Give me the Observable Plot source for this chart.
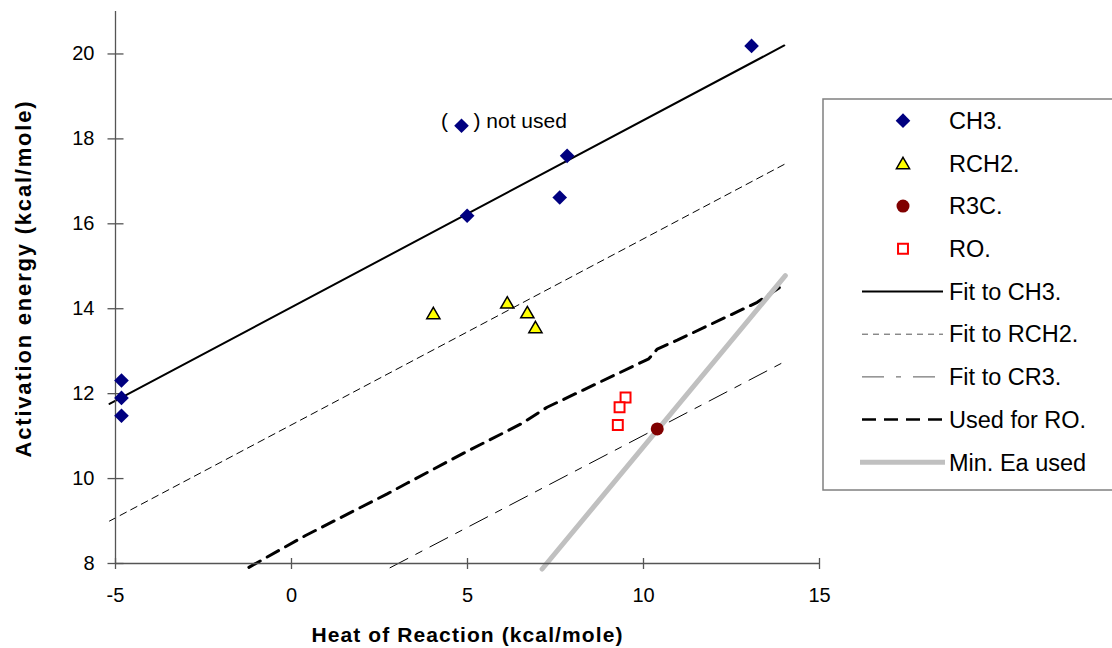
<!DOCTYPE html>
<html><head><meta charset="utf-8">
<script src="https://cdn.jsdelivr.net/npm/d3@7"></script>
<script src="https://cdn.jsdelivr.net/npm/@observablehq/plot@0.6"></script>
<style>body{margin:0;background:#fff;} #chart svg{display:block}</style>
</head><body><div id="chart"></div>
<script>
// ---- data ----
const xTicks = [-5, 0, 5, 10, 15];
const yTicks = [8, 10, 12, 14, 16, 18, 20];
const xDomain = [-5, 15];
const yDomain = [8, 21];
const xTitle = "Heat of Reaction (kcal/mole)";
const yTitle = "Activation energy (kcal/mole)";

const ch3X = [-4.83, -4.83, -4.83, 4.99, 7.83, 7.62, 13.07, 4.83];
const ch3Y = [12.31, 11.90, 11.48, 16.19, 17.60, 16.62, 20.19, 18.31];
const rch2X = [4.03, 6.13, 6.70, 6.93];
const rch2Y = [13.89, 14.14, 13.91, 13.56];
const r3cX = [10.39];
const r3cY = [11.17];
const roX = [9.49, 9.32, 9.27];
const roY = [11.91, 11.68, 11.26];

const fitCH3X = [-5.17, 14.0];
const fitCH3Y = [11.76, 20.2];
const fitRCH2X = [-5.17, 14.0];
const fitRCH2Y = [9.0, 17.4];
const fitCR3X = [2.8, 14.0];
const fitCR3Y = [7.9, 12.75];
const usedROX = [-1.21, 0.4, 2.72, 3.28, 4.89, 6.55, 7.26, 10.15, 10.39, 10.96, 13.23, 14.03];
const usedROY = [7.91, 8.66, 9.64, 9.89, 10.6, 11.3, 11.68, 12.82, 13.05, 13.26, 14.15, 14.59];
const minEaX = [7.12, 14.03];
const minEaY = [7.87, 14.78];

const notUsedX = [4.83];
const notUsedY = [18.31];
const legendLabels = ["CH3.", "RCH2.", "R3C.", "RO.", "Fit to CH3.", "Fit to RCH2.", "Fit to CR3.", "Used for RO.", "Min. Ea used"];

// ---- build ----
const pts = (xs, ys) => xs.map((x, i) => ({x, y: ys[i]}));
const FONT = '"Liberation Sans", Arial, sans-serif';
const AX = "#555";
const vTick = {draw(c) { c.moveTo(0, -5.5); c.lineTo(0, 5.5); }};
const hTick = {draw(c) { c.moveTo(-8, 0); c.lineTo(8, 0); }};

const chart = Plot.plot({
  width: 1112, height: 648,
  marginLeft: 115, marginRight: 293, marginTop: 11, marginBottom: 85,
  style: {fontFamily: FONT, fontSize: "20px", color: "#000", background: "#fff"},
  x: {domain: xDomain},
  y: {domain: yDomain},
  marks: [
    Plot.line(pts(fitRCH2X, fitRCH2Y), {x: "x", y: "y", stroke: "#000", strokeWidth: 1, strokeDasharray: "7 5"}),
    Plot.line(pts(fitCR3X, fitCR3Y), {x: "x", y: "y", stroke: "#000", strokeWidth: 1, strokeDasharray: "20 9 7 9"}),
    Plot.line(pts(usedROX, usedROY), {x: "x", y: "y", stroke: "#000", strokeWidth: 3, strokeDasharray: "13 8"}),
    Plot.line(pts(minEaX, minEaY), {x: "x", y: "y", stroke: "#c0c0c0", strokeWidth: 5}),
    Plot.line(pts(fitCH3X, fitCH3Y), {x: "x", y: "y", stroke: "#000", strokeWidth: 2}),
    // axes
    Plot.ruleY([yDomain[0]], {stroke: AX, strokeWidth: 1.3}),
    Plot.ruleX([xDomain[0]], {stroke: AX, strokeWidth: 1.3}),
    Plot.dot(xTicks, {x: d => d, y: () => yDomain[0], symbol: vTick, r: 5, stroke: AX, strokeWidth: 1.3, fill: "none"}),
    Plot.dot(yTicks, {y: d => d, x: () => xDomain[0], symbol: hTick, r: 5, stroke: AX, strokeWidth: 1.3, fill: "none"}),
    Plot.axisX({ticks: xTicks, tickSize: 0, tickPadding: 24, label: null, fontSize: 20, tickFormat: d => String(d)}),
    Plot.axisY({ticks: yTicks, tickSize: 0, tickPadding: 21, label: null, fontSize: 20, tickFormat: d => String(d)}),
    // points
    Plot.dot(pts(ch3X, ch3Y), {x: "x", y: "y", symbol: "diamond2", r: 6.6, fill: "#000080"}),
    Plot.dot(pts(rch2X, rch2Y), {x: "x", y: "y", symbol: "triangle", r: 4.9, fill: "#ffff00", stroke: "#000", strokeWidth: 1.5, dy: 1.5}),
    Plot.dot(pts(r3cX, r3cY), {x: "x", y: "y", symbol: "circle", r: 6.5, fill: "#800000"}),
    Plot.dot(pts(roX, roY), {x: "x", y: "y", symbol: "square", r: 5.6, fill: "#fff", stroke: "#ff0000", strokeWidth: 2}),
    // annotation
    Plot.text(pts(notUsedX, notUsedY), {x: "x", y: "y", text: () => "(", dx: -17, dy: -4, fontSize: 21}),
    Plot.text(pts(notUsedX, notUsedY), {x: "x", y: "y", text: () => ") not used", textAnchor: "start", dx: 12, dy: -4, fontSize: 21}),
    // titles
    Plot.text([xTitle], {frameAnchor: "bottom", textAnchor: "middle", dy: 78, fontWeight: "bold", fontSize: 21}),
    Plot.text([yTitle], {frameAnchor: "left", textAnchor: "middle", rotate: -90, dx: -92, dy: -9, fontWeight: "bold", fontSize: 22})
  ]
});
document.getElementById("chart").appendChild(chart);

const svg = d3.select(chart);
svg.selectAll("text").filter(function() { return this.textContent === xTitle; }).style("letter-spacing", "1.1px");
svg.selectAll("text").filter(function() { return this.textContent === yTitle; }).style("letter-spacing", "1.8px");

// ---- legend ----
const lg = svg.append("g").attr("font-family", FONT).attr("font-size", 23.5).attr("text-anchor", "start");
lg.append("rect").attr("x", 823).attr("y", 99).attr("width", 320).attr("height", 391)
  .attr("fill", "#fff").attr("stroke", "#808080").attr("stroke-width", 1.5);
const ly0 = 120.7, ldy = 42.7, mx = 903, tx = 949, l1 = 862, l2 = 943;
const sym = (type, r) => d3.symbol(type, Math.PI * r * r)();
const legendDraw = [
  g => g.append("path").attr("d", sym(d3.symbolDiamond2, 6.6)).attr("fill", "#000080"),
  g => g.append("path").attr("d", sym(d3.symbolTriangle, 4.9)).attr("transform", "translate(0,1.5)").attr("fill", "#ffff00").attr("stroke", "#000").attr("stroke-width", 1.5),
  g => g.append("path").attr("d", sym(d3.symbolCircle, 6.5)).attr("fill", "#800000"),
  g => g.append("path").attr("d", sym(d3.symbolSquare, 5.6)).attr("fill", "#fff").attr("stroke", "#ff0000").attr("stroke-width", 2),
  g => g.append("line").attr("x1", l1 - mx).attr("x2", l2 - mx).attr("stroke", "#000").attr("stroke-width", 2),
  g => g.append("line").attr("x1", l1 - mx).attr("x2", l2 - mx).attr("stroke", "#555").attr("stroke-width", 1).attr("stroke-dasharray", "6 5"),
  g => g.append("line").attr("x1", l1 - mx).attr("x2", l2 - mx).attr("stroke", "#555").attr("stroke-width", 1).attr("stroke-dasharray", "22 12 5 12"),
  g => g.append("line").attr("x1", l1 - mx).attr("x2", l2 - mx).attr("stroke", "#000").attr("stroke-width", 2.5).attr("stroke-dasharray", "14 8"),
  g => g.append("line").attr("x1", l1 - 2 - mx).attr("x2", l2 + 2 - mx).attr("stroke", "#c0c0c0").attr("stroke-width", 5)
];
legendLabels.forEach((label, i) => {
  const y = ly0 + i * ldy;
  const g = lg.append("g").attr("transform", `translate(${mx},${y})`);
  legendDraw[i](g);
  lg.append("text").attr("x", tx).attr("y", y).attr("dy", "0.35em").attr("fill", "#000").text(label);
});
</script>
</body></html>
